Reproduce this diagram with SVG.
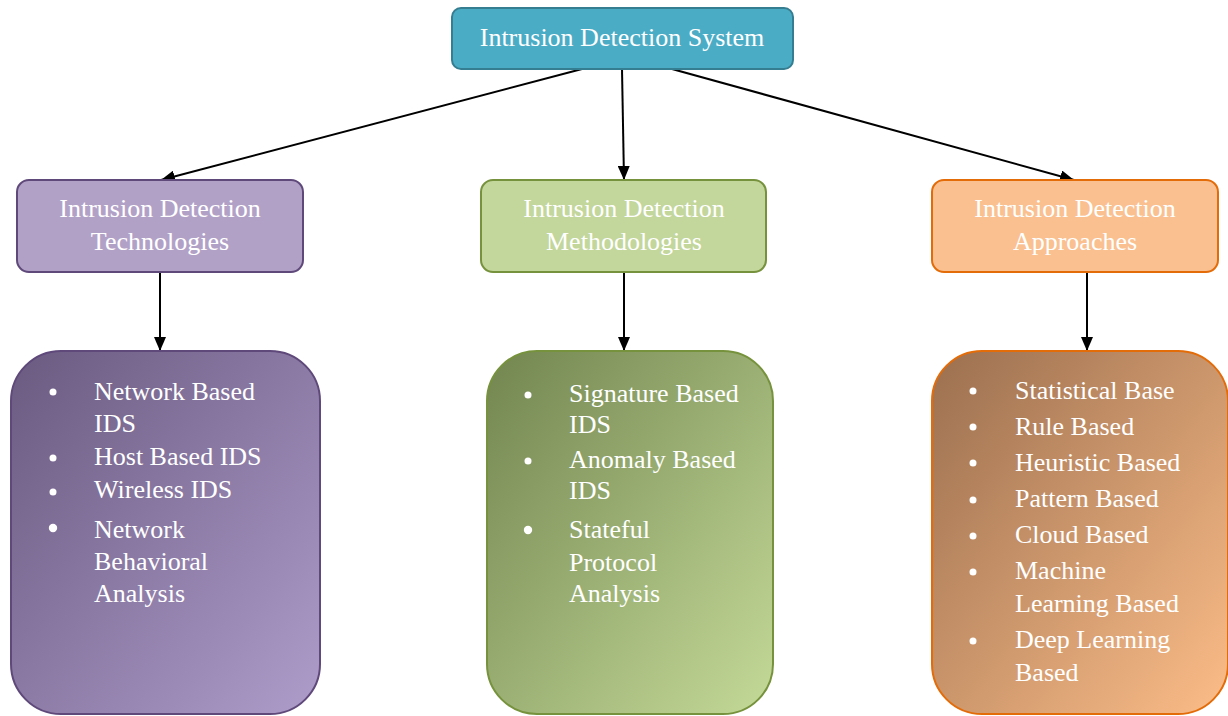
<svg xmlns="http://www.w3.org/2000/svg" width="1228" height="716" viewBox="0 0 1228 716">
<defs>
<style>
text{font-family:"Liberation Serif","Times New Roman",serif;font-size:26px;fill:#ffffff}
.c{text-anchor:middle}
.conn line{stroke:#000;stroke-width:2;marker-end:url(#ah)}
.b{fill:#ffffff}
</style>
<marker id="ah" viewBox="0 0 14 12" refX="14" refY="6" markerWidth="14" markerHeight="12" markerUnits="userSpaceOnUse" orient="auto"><path d="M0,0 L14,6 L0,12 z" fill="#000"/></marker>
<linearGradient id="gP" x1="0" y1="0" x2="1" y2="1"><stop offset="0" stop-color="#6a5a80"/><stop offset="1" stop-color="#ae9cca"/></linearGradient>
<linearGradient id="gG" x1="0" y1="0" x2="1" y2="1"><stop offset="0" stop-color="#728550"/><stop offset="1" stop-color="#c4da98"/></linearGradient>
<linearGradient id="gO" x1="0" y1="0" x2="1" y2="1"><stop offset="0" stop-color="#9b6f4f"/><stop offset="1" stop-color="#fcbd88"/></linearGradient>
</defs>
<rect width="1228" height="716" fill="#ffffff"/>
<g class="conn" id="connectors">
<line x1="582" y1="69" x2="161" y2="180"/>
<line x1="622" y1="69" x2="624" y2="180"/>
<line x1="672" y1="69" x2="1074" y2="180"/>
<line x1="160" y1="272" x2="160" y2="351"/>
<line x1="624" y1="272" x2="624" y2="351"/>
<line x1="1087" y1="272" x2="1087" y2="351"/>
</g>
<g id="ids">
<rect x="452" y="8" width="341" height="61" rx="9" fill="#4bacc6" stroke="#357d91" stroke-width="2"/>
<text class="c" x="622" y="46">Intrusion Detection System</text>
</g>
<g id="technologies">
<rect x="17" y="180" width="286" height="92" rx="12" fill="#b2a1c7" stroke="#5f497a" stroke-width="2"/>
<text class="c" x="160" y="217">Intrusion Detection</text>
<text class="c" x="160" y="250">Technologies</text>
</g>
<g id="methodologies">
<rect x="481" y="180" width="285" height="92" rx="12" fill="#c3d69b" stroke="#76923c" stroke-width="2"/>
<text class="c" x="624" y="217">Intrusion Detection</text>
<text class="c" x="624" y="250">Methodologies</text>
</g>
<g id="approaches">
<rect x="932" y="180" width="286" height="92" rx="12" fill="#fac090" stroke="#e36c09" stroke-width="2"/>
<text class="c" x="1075" y="217">Intrusion Detection</text>
<text class="c" x="1075" y="250">Approaches</text>
</g>
<g id="tech-list">
<rect x="11" y="351" width="309" height="363" rx="50" fill="url(#gP)" stroke="#5f497a" stroke-width="2"/>
<circle class="b" cx="53" cy="392" r="3.5"/>
<circle class="b" cx="53" cy="458" r="3.5"/>
<circle class="b" cx="53" cy="492" r="3.5"/>
<circle class="b" cx="53" cy="528" r="4.2"/>
<text x="94" y="400">Network Based</text>
<text x="94" y="432">IDS</text>
<text x="94" y="465">Host Based IDS</text>
<text x="94" y="498">Wireless IDS</text>
<text x="94" y="538">Network</text>
<text x="94" y="570">Behavioral</text>
<text x="94" y="602">Analysis</text>
</g>
<g id="meth-list">
<rect x="487" y="351" width="286" height="363" rx="50" fill="url(#gG)" stroke="#76923c" stroke-width="2"/>
<circle class="b" cx="528" cy="395" r="3.5"/>
<circle class="b" cx="528" cy="461" r="3.5"/>
<circle class="b" cx="528" cy="530" r="4.2"/>
<text x="569" y="402">Signature Based</text>
<text x="569" y="433">IDS</text>
<text x="569" y="468">Anomaly Based</text>
<text x="569" y="499">IDS</text>
<text x="569" y="538">Stateful</text>
<text x="569" y="571">Protocol</text>
<text x="569" y="602">Analysis</text>
</g>
<g id="appr-list">
<rect x="932" y="351" width="296" height="363" rx="50" fill="url(#gO)" stroke="#e36c09" stroke-width="2"/>
<circle class="b" cx="973" cy="391" r="3.5"/>
<circle class="b" cx="973" cy="427" r="3.5"/>
<circle class="b" cx="973" cy="463" r="3.5"/>
<circle class="b" cx="973" cy="500" r="3.5"/>
<circle class="b" cx="973" cy="536" r="3.5"/>
<circle class="b" cx="973" cy="572" r="3.5"/>
<circle class="b" cx="973" cy="641" r="3.5"/>
<text x="1015" y="399">Statistical Base</text>
<text x="1015" y="435">Rule Based</text>
<text x="1015" y="471">Heuristic Based</text>
<text x="1015" y="507">Pattern Based</text>
<text x="1015" y="543">Cloud Based</text>
<text x="1015" y="579">Machine</text>
<text x="1015" y="612">Learning Based</text>
<text x="1015" y="648">Deep Learning</text>
<text x="1015" y="681">Based</text>
</g>
</svg>
